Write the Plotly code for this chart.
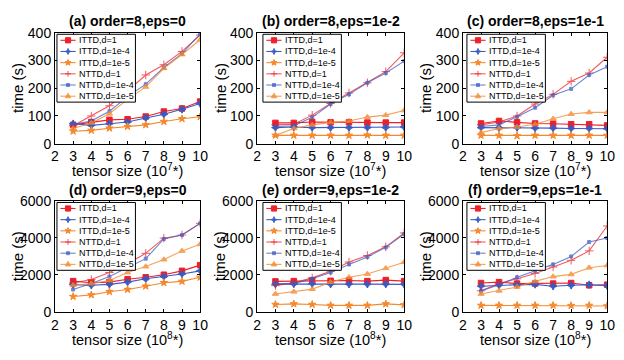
import math
import plotly.graph_objects as go

# ---------------- data ----------------
tensor_sizes = [3, 4, 5, 6, 7, 8, 9, 10]
x_tick_values = [2, 3, 4, 5, 6, 7, 8, 9, 10]
y_ticks_order8 = [0, 100, 200, 300, 400]
y_ticks_order9 = [0, 2000, 4000, 6000]
series_labels = ["ITTD,d=1", "ITTD,d=1e-4", "ITTD,d=1e-5",
                 "NTTD,d=1", "NTTD,d=1e-4", "NTTD,d=1e-5"]
panel_titles = ["(a) order=8,eps=0", "(b) order=8,eps=1e-2", "(c) order=8,eps=1e-1",
                "(d) order=9,eps=0", "(e) order=9,eps=1e-2", "(f) order=9,eps=1e-1"]
size_exponents = ["7", "7", "7", "8", "8", "8"]

# (a) order=8, eps=0
a_ittd_d1 = [68, 78, 86, 88, 98, 116, 127, 152]
a_ittd_d1e4 = [72, 66, 72, 78, 93, 106, 124, 145]
a_ittd_d1e5 = [45, 48, 56, 62, 68, 80, 90, 97]
a_nttd_d1 = [65, 100, 137, 190, 248, 285, 333, 392]
a_nttd_d1e4 = [70, 82, 117, 170, 215, 275, 325, 396]
a_nttd_d1e5 = [55, 75, 108, 160, 205, 272, 322, 375]

# (b) order=8, eps=1e-2
b_ittd_d1 = [75, 75, 78, 77, 77, 76, 76, 76]
b_ittd_d1e4 = [58, 60, 58, 58, 58, 58, 58, 60]
b_ittd_d1e5 = [30, 30, 30, 30, 30, 31, 30, 30]
b_nttd_d1 = [68, 70, 103, 145, 183, 220, 260, 328]
b_nttd_d1e4 = [62, 65, 95, 143, 178, 220, 255, 298]
b_nttd_d1e5 = [30, 55, 68, 77, 82, 96, 103, 120]

# (c) order=8, eps=1e-1
c_ittd_d1 = [73, 82, 77, 73, 72, 70, 70, 66]
c_ittd_d1e4 = [58, 58, 58, 56, 56, 55, 55, 54]
c_ittd_d1e5 = [30, 30, 28, 30, 30, 30, 30, 30]
c_nttd_d1 = [68, 78, 100, 143, 178, 225, 255, 312]
c_nttd_d1e4 = [62, 68, 97, 130, 175, 198, 248, 278]
c_nttd_d1e5 = [40, 55, 60, 70, 90, 107, 113, 113]

# (d) order=9, eps=0
d_ittd_d1 = [1665, 1580, 1610, 1770, 1870, 2010, 2220, 2530]
d_ittd_d1e4 = [1475, 1440, 1490, 1610, 1790, 1910, 2050, 2220]
d_ittd_d1e5 = [830, 920, 1090, 1210, 1390, 1580, 1650, 1870]
d_nttd_d1 = [1560, 1750, 2130, 2600, 3170, 3990, 4160, 4790]
d_nttd_d1e4 = [1210, 1530, 1910, 2400, 2880, 3950, 4160, 4790]
d_nttd_d1e5 = [1440, 1530, 1700, 2130, 2450, 2830, 3300, 3660]

# (e) order=9, eps=1e-2
e_ittd_d1 = [1650, 1665, 1700, 1680, 1700, 1665, 1720, 1665]
e_ittd_d1e4 = [1500, 1510, 1520, 1500, 1500, 1500, 1500, 1490]
e_ittd_d1e5 = [400, 430, 400, 350, 350, 350, 430, 380]
e_nttd_d1 = [1420, 1580, 1840, 2200, 2700, 3050, 3520, 4270]
e_nttd_d1e4 = [1530, 1530, 1790, 2130, 2570, 2970, 3490, 4210]
e_nttd_d1e5 = [970, 1090, 1230, 1610, 1870, 2050, 2360, 2690]

# (f) order=9, eps=1e-1
f_ittd_d1 = [1560, 1610, 1530, 1530, 1530, 1560, 1440, 1470]
f_ittd_d1e4 = [1390, 1440, 1470, 1490, 1390, 1440, 1470, 1420]
f_ittd_d1e5 = [350, 350, 350, 350, 350, 340, 350, 320]
f_nttd_d1 = [1140, 1530, 1790, 2080, 2430, 2790, 3300, 4650]
f_nttd_d1e4 = [1130, 1470, 1870, 2220, 2570, 3000, 3780, 4000]
f_nttd_d1e5 = [970, 1140, 1350, 1650, 1910, 2030, 2390, 2510]

panel_series = [
    [a_ittd_d1, a_ittd_d1e4, a_ittd_d1e5, a_nttd_d1, a_nttd_d1e4, a_nttd_d1e5],
    [b_ittd_d1, b_ittd_d1e4, b_ittd_d1e5, b_nttd_d1, b_nttd_d1e4, b_nttd_d1e5],
    [c_ittd_d1, c_ittd_d1e4, c_ittd_d1e5, c_nttd_d1, c_nttd_d1e4, c_nttd_d1e5],
    [d_ittd_d1, d_ittd_d1e4, d_ittd_d1e5, d_nttd_d1, d_nttd_d1e4, d_nttd_d1e5],
    [e_ittd_d1, e_ittd_d1e4, e_ittd_d1e5, e_nttd_d1, e_nttd_d1e4, e_nttd_d1e5],
    [f_ittd_d1, f_ittd_d1e4, f_ittd_d1e5, f_nttd_d1, f_nttd_d1e4, f_nttd_d1e5],
]

# ---------------- styles ----------------
W, H = 624, 360
RED, BLUE, ORANGE = "#EE2229", "#3A5DC4", "#F5892E"
FONT = "Liberation Sans, Arial, sans-serif"


def star_path(n, r_out, r_in):
    pts = []
    for i in range(2 * n):
        rr = r_out if i % 2 == 0 else r_in
        ang = math.pi / 2 + i * math.pi / n
        pts.append(f"{rr * math.cos(ang):.2f},{rr * math.sin(ang):.2f}")
    return "M" + "L".join(pts) + "Z"


# per series: colour, plotly marker symbol/size, legend glyph path (pixels), filled?, opacity
styles = [
    dict(color=RED, symbol="square", size=5.5, opacity=1.0,
         glyph="M-2.6,-2.6H2.6V2.6H-2.6Z", filled=True),
    dict(color=BLUE, symbol="star-diamond", size=5.5, opacity=1.0,
         glyph=star_path(4, 3, 1.1), filled=True),
    dict(color=ORANGE, symbol="star", size=5.5, opacity=1.0,
         glyph=star_path(5, 3.2, 1.3), filled=True),
    dict(color=RED, symbol="cross-thin-open", size=6, opacity=0.75,
         glyph="M-3,0H3M0,-3V3", filled=False),
    dict(color=BLUE, symbol="square", size=3, opacity=0.75,
         glyph="M-1.5,-1.5H1.5V1.5H-1.5Z", filled=True),
    dict(color=ORANGE, symbol="triangle-up", size=5.5, opacity=0.8,
         glyph="M0,3L2.7,-1.6L-2.7,-1.6Z", filled=True),
]

# plot areas in pixels (left, right, top, bottom)
col_px = [(52, 200), (258, 408), (468, 615)]
row_px = [(26, 142), (202, 318)]
legend_offset = [2, 6, 4]
LEG_W, LEG_H, ROW0, ROW_STEP = 80, 71, 6.3, 11.7

fig = go.Figure()
annotations = []
shapes = []


def px(xp):
    return xp / W


def py(yp):
    return 1 - yp / H


for k in range(6):
    r, c = divmod(k, 3)
    xl, xr = col_px[c]
    yt, yb = row_px[r]
    idx = k + 1
    xa = "x" if idx == 1 else f"x{idx}"
    ya = "y" if idx == 1 else f"y{idx}"

    # data traces
    for s, (vals, st) in enumerate(zip(panel_series[k], styles)):
        fig.add_trace(go.Scatter(
            x=tensor_sizes, y=vals, mode="lines+markers", xaxis=xa, yaxis=ya,
            name=series_labels[s], showlegend=False, opacity=st["opacity"],
            line=dict(color=st["color"], width=1.1),
            marker=dict(symbol=st["symbol"], size=st["size"], color=st["color"],
                        line=dict(color=st["color"], width=1)),
            hoverinfo="skip"))

    # legend box drawn above the traces
    lx0 = xl + legend_offset[c]
    ly0 = yt + 1.5
    shapes.append(dict(type="rect", xref="paper", yref="paper", layer="above",
                       x0=px(lx0), x1=px(lx0 + LEG_W), y0=py(ly0 + LEG_H), y1=py(ly0),
                       fillcolor="white", line=dict(color="black", width=1)))
    for s, st in enumerate(styles):
        yrow = ly0 + ROW0 + s * ROW_STEP
        shapes.append(dict(type="line", xref="paper", yref="paper", layer="above",
                           x0=px(lx0 + 3.5), x1=px(lx0 + 19), y0=py(yrow), y1=py(yrow),
                           opacity=st["opacity"], line=dict(color=st["color"], width=1.1)))
        shapes.append(dict(type="path", xref="paper", yref="paper", layer="above",
                           xsizemode="pixel", ysizemode="pixel",
                           xanchor=px(lx0 + 11.3), yanchor=py(yrow), path=st["glyph"],
                           opacity=st["opacity"],
                           fillcolor=st["color"] if st["filled"] else "rgba(0,0,0,0)",
                           line=dict(color=st["color"], width=1)))
        annotations.append(dict(
            x=px(lx0 + 20.5), y=py(yrow), xref="paper", yref="paper", text=series_labels[s],
            showarrow=False, xanchor="left", yanchor="middle",
            font=dict(size=9, color="black", family=FONT)))

    xdom = [px(xl), px(xr)]
    ydom = [py(yb), py(yt)]
    yt_vals = y_ticks_order8 if r == 0 else y_ticks_order9
    axis_common = dict(showline=True, linecolor="black", linewidth=1, mirror="ticks",
                       ticks="inside", ticklen=3, tickcolor="black", showgrid=False,
                       zeroline=False, tickfont=dict(size=14, color="black", family=FONT),
                       fixedrange=True)
    fig.update_layout(**{
        f"xaxis{'' if idx == 1 else idx}": dict(
            domain=xdom, anchor=ya, range=[2, 10], tickvals=x_tick_values, **axis_common),
        f"yaxis{'' if idx == 1 else idx}": dict(
            domain=ydom, anchor=xa, range=[yt_vals[0], yt_vals[-1]], tickvals=yt_vals,
            **axis_common),
    })

    xc = px((xl + xr) / 2)
    # subplot title
    annotations.append(dict(
        x=xc, y=py(yt - 12), xref="paper", yref="paper", text=f"<b>{panel_titles[k]}</b>",
        showarrow=False, xanchor="center", yanchor="middle",
        font=dict(size=14, color="black", family=FONT)))
    # x-axis title
    annotations.append(dict(
        x=xc, y=py(yb + 28), xref="paper", yref="paper",
        text=f"tensor size (10<sup>{size_exponents[k]}</sup>*)",
        showarrow=False, xanchor="center", yanchor="middle",
        font=dict(size=14.5, color="black", family=FONT)))
    # y-axis title
    annotations.append(dict(
        x=px(xl - 38), y=py((yt + yb) / 2), xref="paper", yref="paper",
        text="time (s)", textangle=-90, showarrow=False, xanchor="center", yanchor="middle",
        font=dict(size=15, color="black", family=FONT)))

fig.update_layout(
    width=W, height=H, margin=dict(l=0, r=0, t=0, b=0),
    paper_bgcolor="white", plot_bgcolor="white", showlegend=False,
    annotations=annotations, shapes=shapes, font=dict(family=FONT, color="black"))

fig.write_html("out.html", config={"displayModeBar": False})
